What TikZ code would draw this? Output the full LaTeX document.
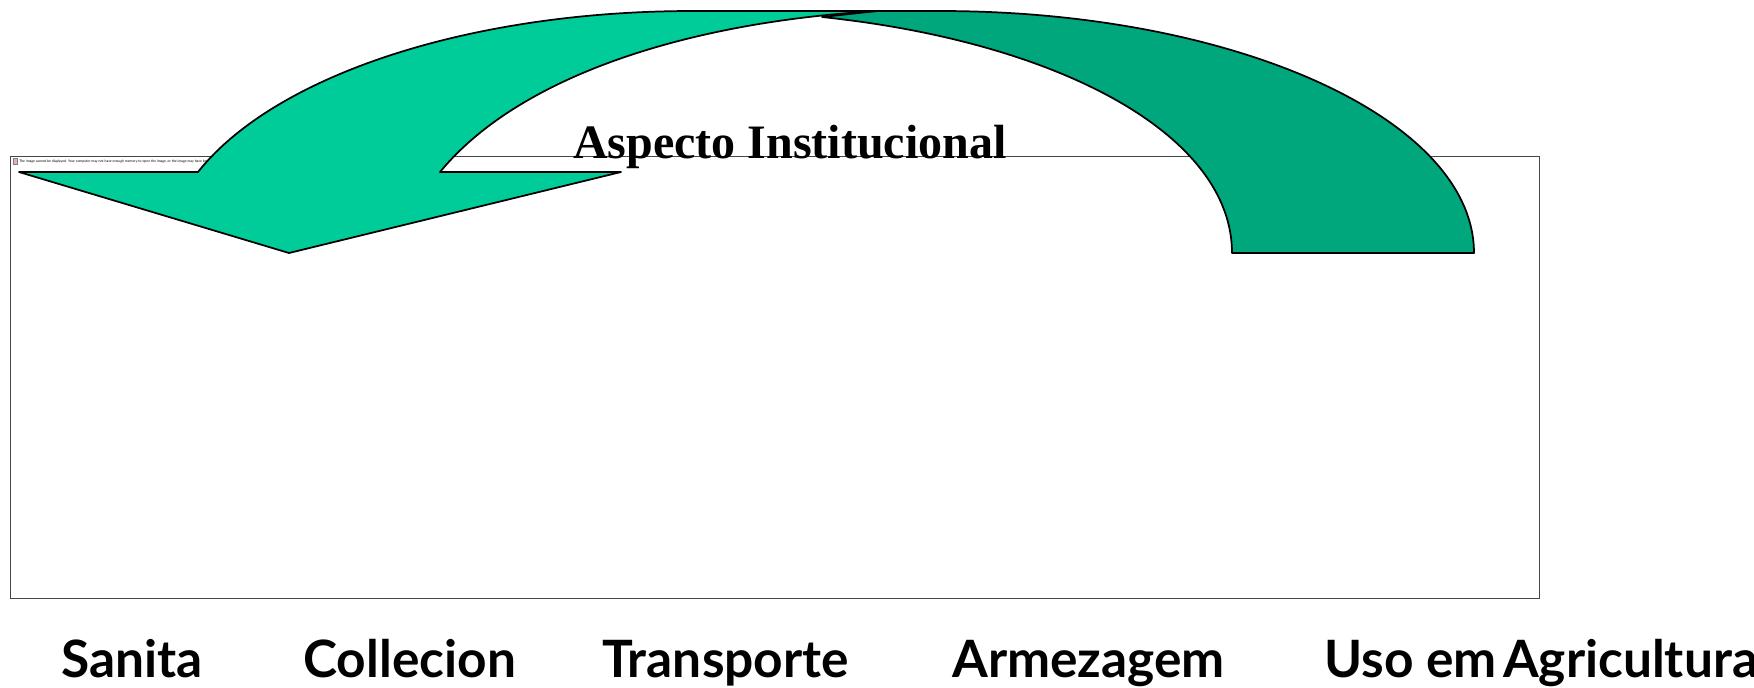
\documentclass[tikz,border=0pt]{standalone}
\usepackage{fontspec}
\setmainfont{Liberation Serif}
\newfontfamily\labelfont{Lato}
\usetikzlibrary{arrows}
\tikzset{
  lightarrow/.style={draw=black,line width=1.3pt,fill={rgb, 255:red, 0; green, 204; blue, 153 },line join=round},
  darkarrow/.style={draw=black,line width=1.3pt,fill={rgb, 255:red, 0; green, 166; blue, 124 },line join=round},
  framebox/.style={draw={rgb, 255:red, 70; green, 70; blue, 70 },line width=0.6pt},
  steplabel/.style={anchor=base west,inner sep=0pt,font=\labelfont\bfseries\fontsize{38.6}{46}\selectfont},
  titlelabel/.style={anchor=base west,inner sep=0pt,font=\bfseries\fontsize{36}{43}\selectfont},
  missinglabel/.style={anchor=base west,inner sep=0pt,font=\labelfont\fontsize{2.6}{3}\selectfont}
}
\begin{document}
\begin{tikzpicture}[x=0.75pt,y=0.75pt,yscale=-1,xscale=1]
\useasboundingbox (0,0) rectangle (1754,687);

%Shape: Rectangle [id:frame]
\draw [framebox] (10,156) rectangle (1539,598);
%Shape: Rectangle [id:icon]
\draw [draw=gray,fill={rgb, 255:red, 240; green, 170; blue, 170 }] (13,158) rectangle (17,164);
% Text Node
\draw (19,162.5) node (missing) [missinglabel] {The image cannot be displayed. Your computer may not have enough memory to open the image, or the image may have been};

%Curve Lines [id:dark]
\draw [darkarrow] (822,17) -- (877,11) -- (940,11) .. controls (1235,11) and (1474,119) .. (1474,253) -- (1232,253) .. controls (1232,135) and (1060,42) .. (822,17) -- cycle ;
%Curve Lines [id:light]
\draw [lightarrow] (198,172) .. controls (275,75) and (470,11) .. (693,11) -- (877,11) .. controls (690,22) and (520,75) .. (440,172) -- (621,172) -- (289,253) -- (19,172) -- cycle ;

% Text Node
\draw (573,158) node (title) [titlelabel] {Aspecto Institucional};
% Text Node
\draw (61,677) node (sanita) [steplabel] {Sanita};
% Text Node
\draw (303,677) node (collecion) [steplabel] {Collecion};
% Text Node
\draw (602,677) node (transporte) [steplabel] {Transporte};
% Text Node
\draw (952,677) node (armezagem) [steplabel] {Armezagem};
% Text Node
\draw (1324,677) node (uso) [steplabel] {Uso em\kern-0.12em{} Agricultura};

\end{tikzpicture}
\end{document}
